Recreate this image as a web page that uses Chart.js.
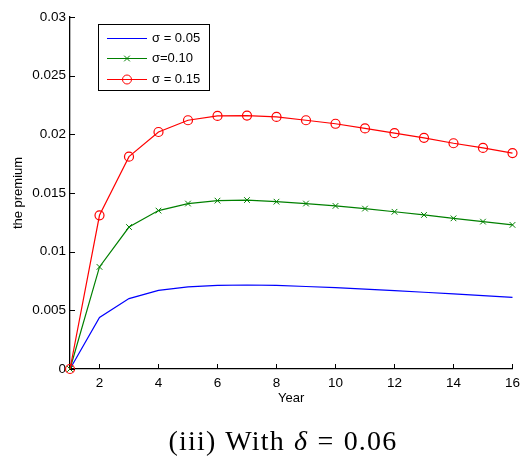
<!DOCTYPE html>
<html>
<head>
<meta charset="utf-8">
<script src="https://cdn.jsdelivr.net/npm/chart.js@4/dist/chart.umd.min.js"></script>
<style>
html, body { margin: 0; padding: 0; background: #fff; }
#wrap { position: relative; width: 526px; height: 461px; }
#premiumChart { position: absolute; left: 0; top: 0; }
#caption {
    position: absolute; left: 20px; width: 526px; top: 425px;
    text-align: center; color: #000; letter-spacing: 1.2px; word-spacing: 1px;
    font-family: "Liberation Serif", "Times New Roman", serif; font-size: 28px;
}
</style>
</head>
<body>
<div id="wrap">
    <canvas id="premiumChart" width="526" height="461"></canvas>
    <div id="caption">(iii) With <i>δ</i> = 0.06</div>
</div>
<script>
const years = [1, 2, 3, 4, 5, 6, 7, 8, 9, 10, 11, 12, 13, 14, 15, 16];
const sigma005 = [0, 0.0044, 0.0060, 0.0067, 0.0070, 0.00713, 0.00716, 0.00713, 0.00703, 0.00693, 0.0068, 0.00668, 0.00654, 0.0064, 0.00625, 0.0061];
const sigma010 = [0, 0.0087, 0.0121, 0.0135, 0.0141, 0.01435, 0.0144, 0.01426, 0.0141, 0.0139, 0.01367, 0.0134, 0.01313, 0.01284, 0.01256, 0.01228];
const sigma015 = [0, 0.0131, 0.0181, 0.0202, 0.0212, 0.02157, 0.0216, 0.02148, 0.0212, 0.0209, 0.0205, 0.0201, 0.0197, 0.01924, 0.01884, 0.0184];
const seriesLabels = ['σ = 0.05', 'σ=0.10', 'σ = 0.15'];
const xTicks = [2, 4, 6, 8, 10, 12, 14, 16];
const yTicks = [0, 0.005, 0.01, 0.015, 0.02, 0.025, 0.03];

const FONT = '"Liberation Sans", Arial, Helvetica, sans-serif';

function toPoints(values) {
    return values.map((v, i) => ({ x: years[i], y: v }));
}

// inward tick marks, axis titles and the boxed legend
const decorations = {
    id: 'decorations',
    afterDraw(chart) {
        const { ctx, chartArea: area, scales } = chart;
        ctx.save();
        ctx.strokeStyle = '#000';
        ctx.lineWidth = 1;
        ctx.beginPath();
        xTicks.forEach(v => {
            const px = Math.round(scales.x.getPixelForValue(v)) + 0.5;
            ctx.moveTo(px, area.bottom);
            ctx.lineTo(px, area.bottom - 5);
        });
        yTicks.forEach(v => {
            const py = Math.round(scales.y.getPixelForValue(v)) + 0.5;
            ctx.moveTo(area.left, py);
            ctx.lineTo(area.left + 5, py);
        });
        ctx.stroke();

        ctx.fillStyle = '#000';
        ctx.font = '13px ' + FONT;
        ctx.textAlign = 'center';
        ctx.textBaseline = 'middle';
        ctx.fillText('Year', (area.left + area.right) / 2, 398);
        ctx.save();
        ctx.translate(18, (area.top + area.bottom) / 2);
        ctx.rotate(-Math.PI / 2);
        ctx.fillText('the premium', 0, 0);
        ctx.restore();

        // legend
        const bx = 98.5, by = 24.5, bw = 111, bh = 66;
        ctx.fillStyle = '#fff';
        ctx.fillRect(bx, by, bw, bh);
        ctx.strokeRect(bx, by, bw, bh);
        const rows = [38, 58, 79];
        chart.data.datasets.forEach((ds, i) => {
            const y = rows[i] + 0.5;
            ctx.strokeStyle = ds.borderColor;
            ctx.lineWidth = ds.borderWidth;
            ctx.beginPath();
            ctx.moveTo(107, y);
            ctx.lineTo(147, y);
            ctx.stroke();
            if (ds.pointRadius > 0) {
                ctx.fillStyle = 'rgba(0,0,0,0)';
                ctx.lineWidth = 1;
                Chart.helpers.drawPoint(ctx, {
                    pointStyle: ds.pointStyle,
                    radius: ds.pointRadius,
                    rotation: 0,
                    borderWidth: 1
                }, 127, y);
            }
            ctx.fillStyle = '#000';
            ctx.textAlign = 'left';
            ctx.fillText(seriesLabels[i], 152, rows[i]);
        });
        ctx.restore();
    }
};

new Chart(document.getElementById('premiumChart'), {
    type: 'line',
    data: {
        datasets: [{
            label: seriesLabels[0],
            data: toPoints(sigma005),
            borderColor: '#0000ff',
            borderWidth: 1.2,
            pointRadius: 0,
            order: 3
        }, {
            label: seriesLabels[1],
            data: toPoints(sigma010),
            borderColor: '#008000',
            borderWidth: 1.2,
            pointStyle: 'crossRot',
            pointRadius: 4,
            pointBorderWidth: 1,
            order: 2
        }, {
            label: seriesLabels[2],
            data: toPoints(sigma015),
            borderColor: '#ff0000',
            borderWidth: 1.2,
            pointStyle: 'circle',
            pointRadius: 4.5,
            pointBorderWidth: 1.2,
            pointBackgroundColor: 'rgba(0,0,0,0)',
            order: 1
        }]
    },
    options: {
        responsive: false,
        animation: false,
        devicePixelRatio: 1,
        clip: false,
        layout: { autoPadding: false, padding: { top: 17, right: 9, left: 0, bottom: 0 } },
        plugins: { legend: { display: false }, tooltip: { enabled: false } },
        scales: {
            x: {
                type: 'linear',
                min: 1,
                max: 16,
                afterBuildTicks: s => { s.ticks = xTicks.map(v => ({ value: v })); },
                afterFit: s => { s.height = 92; },
                grid: { drawOnChartArea: false, drawTicks: false },
                border: { color: '#000', width: 1.3 },
                ticks: { color: '#000', font: { family: FONT, size: 13.5 }, padding: 6, maxRotation: 0, autoSkip: false }
            },
            y: {
                min: 0,
                max: 0.03,
                afterBuildTicks: s => { s.ticks = yTicks.map(v => ({ value: v })); },
                afterFit: s => { s.width = 70; },
                grid: { drawOnChartArea: false, drawTicks: false },
                border: { color: '#000', width: 1.3 },
                ticks: {
                    color: '#000', font: { family: FONT, size: 13.5 }, padding: 4,
                    callback: v => String(parseFloat(v.toFixed(3)))
                }
            }
        }
    },
    plugins: [decorations]
});
</script>
</body>
</html>
